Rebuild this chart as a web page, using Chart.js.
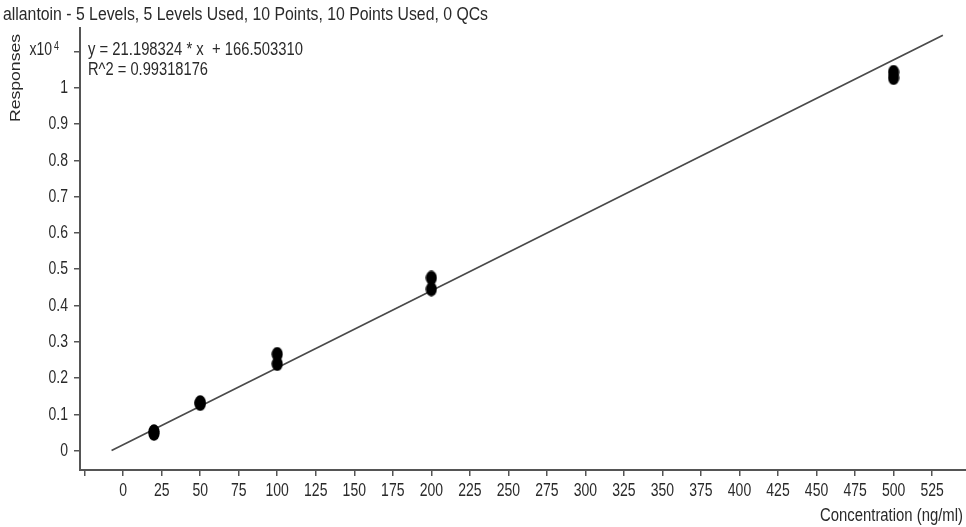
<!DOCTYPE html>
<html>
<head>
<meta charset="utf-8">
<script src="https://cdn.jsdelivr.net/npm/chart.js@4/dist/chart.umd.min.js"></script>
<style>
  html, body { margin: 0; padding: 0; background: #fff; }
  #wrap { width: 966px; height: 527px; position: relative; }
</style>
</head>
<body>
<div id="wrap"><canvas id="cal"></canvas></div>
<script>
// Calibration data for allantoin: two replicate injections per level
const concentrations = [20, 20, 50, 50, 100, 100, 200, 200, 500, 500];
const responses = [470, 530, 1290, 1330, 2390, 2660, 4450, 4760, 10270, 10430];

// Linear fit reported by the quantitation software
const fitSlope = 21.198324;
const fitIntercept = 166.503310;
const fitRSquared = 0.99318176;
const fitRange = [-7.5, 532];

// Axis ticks
const xTickValues = [-25, 0, 25, 50, 75, 100, 125, 150, 175, 200, 225, 250, 275, 300, 325, 350, 375, 400, 425, 450, 475, 500, 525];
const xTickLabels = ['', '0', '25', '50', '75', '100', '125', '150', '175', '200', '225', '250', '275', '300', '325', '350', '375', '400', '425', '450', '475', '500', '525'];
const yTickValues = [0, 1000, 2000, 3000, 4000, 5000, 6000, 7000, 8000, 9000, 10000, 11000];
const yTickLabels = ['0', '0.1', '0.2', '0.3', '0.4', '0.5', '0.6', '0.7', '0.8', '0.9', '1', ''];

const titleText = 'allantoin - 5 Levels, 5 Levels Used, 10 Points, 10 Points Used, 0 QCs';
const xTitle = 'Concentration (ng/ml)';
const yTitle = 'Responses';

const TEXT = '#2a2a2a';
const AXIS = '#555';
const FONT = '"Liberation Sans", Arial, sans-serif';

// Filled oval marker used for the calibration points
const marker = document.createElement('canvas');
marker.width = 12; marker.height = 15;
(function () {
  const m = marker.getContext('2d');
  m.fillStyle = '#000';
  m.beginPath();
  m.ellipse(6, 7.5, 5.6, 7.2, 0, 0, Math.PI * 2);
  m.fill();
})();

// Text is drawn slightly tall and narrow, like the instrument's report font
function drawText(ctx, text, x, y, o) {
  o = o || {};
  const size = o.size || 14;
  ctx.save();
  ctx.translate(x, y);
  if (o.rotate) ctx.rotate(o.rotate);
  ctx.font = size + 'px ' + FONT;
  let sx = 1;
  if (o.width) sx = o.width / ctx.measureText(text).width;
  const sy = o.sy || 1.35;
  if (o.rotate) ctx.scale(sx, 1); else ctx.scale(sx, sy);
  ctx.textAlign = o.align || 'left';
  ctx.textBaseline = o.baseline || 'alphabetic';
  ctx.fillStyle = TEXT;
  ctx.fillText(text, 0, 0);
  ctx.restore();
}

const labelPlugin = {
  id: 'calLabels',
  afterDraw(chart) {
    const ctx = chart.ctx;
    const xs = chart.scales.x, ys = chart.scales.y;

    ys.ticks.forEach(t => {
      const lbl = yTickLabels[yTickValues.indexOf(t.value)];
      if (lbl) drawText(ctx, lbl, 68, ys.getPixelForValue(t.value), { align: 'right', baseline: 'middle' });
    });
    xs.ticks.forEach(t => {
      const lbl = xTickLabels[xTickValues.indexOf(t.value)];
      if (lbl) drawText(ctx, lbl, xs.getPixelForValue(t.value), 491, { align: 'center', baseline: 'middle' });
    });

    // exponent marker on the top tick of the response axis
    const topY = ys.getPixelForValue(11000);
    drawText(ctx, 'x10', 52, topY + 4, { align: 'right' });
    drawText(ctx, '4', 54, topY - 1, { size: 9 });

    drawText(ctx, titleText, 3, 20, { width: 485 });
    drawText(ctx, 'y = ' + fitSlope.toFixed(6) + ' * x  + ' + fitIntercept.toFixed(6), 88, 55, { width: 215 });
    drawText(ctx, 'R^2 = ' + fitRSquared.toFixed(8), 88, 75, { width: 120 });
    drawText(ctx, xTitle, 963, 521, { align: 'right', width: 143 });
    drawText(ctx, yTitle, 16, 78, { rotate: -Math.PI / 2, align: 'center', baseline: 'middle', width: 88 });
  }
};

const fitLine = fitRange.map(x => ({ x: x, y: fitSlope * x + fitIntercept }));
const points = concentrations.map((c, i) => ({ x: c, y: responses[i] }));

new Chart(document.getElementById('cal'), {
  type: 'scatter',
  data: {
    datasets: [
      {
        label: 'Calibration points',
        data: points,
        pointStyle: marker,
        pointRadius: 6,
        order: 0
      },
      {
        label: 'Linear fit',
        data: fitLine,
        showLine: true,
        borderColor: '#4a4a4a',
        borderWidth: 1.7,
        pointRadius: 0,
        order: 1
      }
    ]
  },
  options: {
    responsive: true,
    maintainAspectRatio: false,
    animation: false,
    events: [],
    layout: { autoPadding: false, padding: { top: 28, left: 0, right: 0, bottom: 0 } },
    plugins: { legend: { display: false }, tooltip: { enabled: false } },
    scales: {
      x: {
        type: 'linear',
        min: -28,
        max: 547,
        afterBuildTicks: s => { s.ticks = xTickValues.map(v => ({ value: v })); },
        afterFit: s => { s.height = 57; },
        ticks: { display: false },
        grid: { drawOnChartArea: false, drawTicks: true, tickLength: 6, color: AXIS, lineWidth: 1.5 },
        border: { display: true, color: AXIS, width: 2 }
      },
      y: {
        type: 'linear',
        min: -532,
        max: 11645,
        afterBuildTicks: s => { s.ticks = yTickValues.map(v => ({ value: v })); },
        afterFit: s => { s.width = 80; },
        ticks: { display: false },
        grid: { drawOnChartArea: false, drawTicks: true, tickLength: 6, color: AXIS, lineWidth: 1.5 },
        border: { display: true, color: AXIS, width: 2 }
      }
    }
  },
  plugins: [labelPlugin]
});
</script>
</body>
</html>
